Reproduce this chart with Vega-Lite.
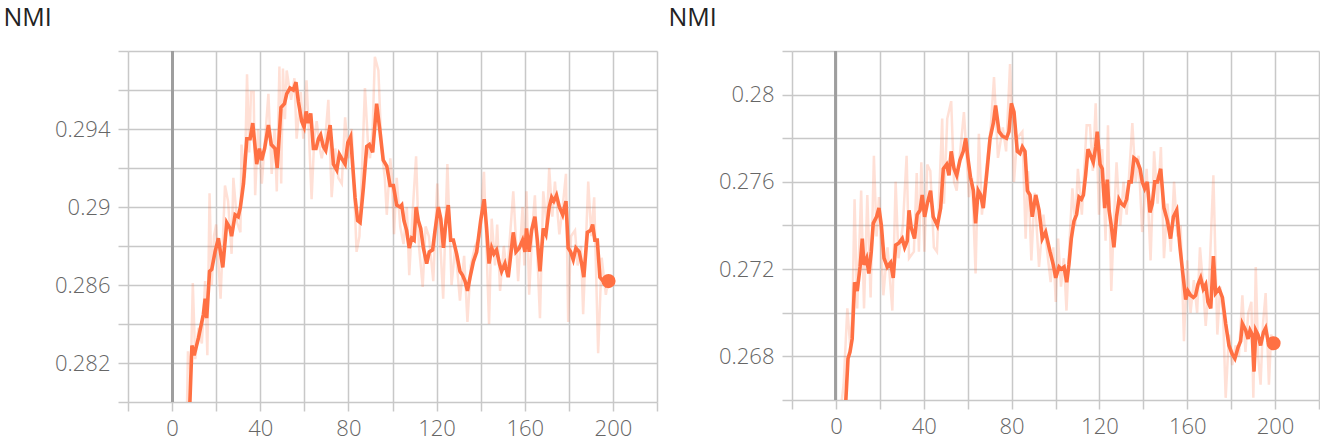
{
  "$schema": "https://vega.github.io/schema/vega-lite/v6.json",
  "padding": {"left": 3, "top": 5, "right": 0, "bottom": 8},
  "spacing": 10,
  "background": "white",
  "config": {
    "view": {"stroke": null},
    "font": "Open Sans",
    "axis": {
      "grid": true,
      "gridColor": "#c8c8c8",
      "gridWidth": 1.5,
      "tickColor": "#c8c8c8",
      "tickWidth": 1.5,
      "domain": false,
      "labelFont": "Open Sans",
      "labelFontSize": 22,
      "labelColor": "#666666",
      "labelFontWeight": 300
    }
  },
  "datasets": {
    "left": [
      {"k":"s","step":7.6,"value":0.2785},{"k":"s","step":9,"value":0.2829},{"k":"s","step":10,"value":0.2824},{"k":"s","step":12,"value":0.2833},{"k":"s","step":14.2,"value":0.2845},{"k":"s","step":15,"value":0.2853},{"k":"s","step":15.7,"value":0.2843},{"k":"s","step":17,"value":0.2867},{"k":"s","step":18,"value":0.2868},{"k":"s","step":19.5,"value":0.2877},{"k":"s","step":21,"value":0.2884},{"k":"s","step":23,"value":0.2869},{"k":"s","step":24.8,"value":0.2892},{"k":"s","step":26.3,"value":0.2889},{"k":"s","step":27,"value":0.2885},{"k":"s","step":28.6,"value":0.2896},{"k":"s","step":30,"value":0.2895},{"k":"s","step":31,"value":0.29},{"k":"s","step":32.4,"value":0.2912},{"k":"s","step":33.9,"value":0.2935},{"k":"s","step":35.4,"value":0.2935},{"k":"s","step":36.6,"value":0.2943},{"k":"s","step":38.4,"value":0.2922},{"k":"s","step":39.6,"value":0.293},{"k":"s","step":40.6,"value":0.2924},{"k":"s","step":42,"value":0.293},{"k":"s","step":43.7,"value":0.2942},{"k":"s","step":45,"value":0.2932},{"k":"s","step":46.7,"value":0.293},{"k":"s","step":47.7,"value":0.292},{"k":"s","step":49.4,"value":0.2951},{"k":"s","step":51,"value":0.2953},{"k":"s","step":52,"value":0.2958},{"k":"s","step":53.5,"value":0.2961},{"k":"s","step":55,"value":0.296},{"k":"s","step":56.2,"value":0.2964},{"k":"s","step":57.3,"value":0.2954},{"k":"s","step":58.8,"value":0.2944},{"k":"s","step":59.9,"value":0.2941},{"k":"s","step":60.8,"value":0.2949},{"k":"s","step":61.8,"value":0.2943},{"k":"s","step":62.9,"value":0.2948},{"k":"s","step":64.1,"value":0.293},{"k":"s","step":65.3,"value":0.293},{"k":"s","step":66.4,"value":0.2935},{"k":"s","step":67.4,"value":0.2937},{"k":"s","step":68.6,"value":0.2931},{"k":"s","step":69.7,"value":0.2929},{"k":"s","step":71.7,"value":0.2942},{"k":"s","step":73.2,"value":0.2922},{"k":"s","step":74.7,"value":0.2919},{"k":"s","step":75.9,"value":0.2927},{"k":"s","step":77.4,"value":0.2924},{"k":"s","step":78.5,"value":0.2922},{"k":"s","step":79.7,"value":0.2933},{"k":"s","step":81,"value":0.2936},{"k":"s","step":83,"value":0.2905},{"k":"s","step":84.2,"value":0.2893},{"k":"s","step":85.3,"value":0.2892},{"k":"s","step":86.8,"value":0.291},{"k":"s","step":88.3,"value":0.2931},{"k":"s","step":89.5,"value":0.2932},{"k":"s","step":91,"value":0.2928},{"k":"s","step":92.8,"value":0.2953},{"k":"s","step":94.3,"value":0.2939},{"k":"s","step":95.8,"value":0.2924},{"k":"s","step":97.4,"value":0.2921},{"k":"s","step":98.9,"value":0.2911},{"k":"s","step":100.4,"value":0.2911},{"k":"s","step":101.9,"value":0.2901},{"k":"s","step":103.4,"value":0.29},{"k":"s","step":104.2,"value":0.2901},{"k":"s","step":105.2,"value":0.2893},{"k":"s","step":106.4,"value":0.2888},{"k":"s","step":107.6,"value":0.2879},{"k":"s","step":108.7,"value":0.2884},{"k":"s","step":109.8,"value":0.2883},{"k":"s","step":110.7,"value":0.29},{"k":"s","step":111.7,"value":0.2893},{"k":"s","step":112.8,"value":0.2889},{"k":"s","step":114,"value":0.2879},{"k":"s","step":115.5,"value":0.2871},{"k":"s","step":116.7,"value":0.2877},{"k":"s","step":118.2,"value":0.2878},{"k":"s","step":119.3,"value":0.2888},{"k":"s","step":120.8,"value":0.29},{"k":"s","step":121.9,"value":0.2894},{"k":"s","step":123.1,"value":0.2879},{"k":"s","step":124.3,"value":0.2893},{"k":"s","step":125.3,"value":0.2901},{"k":"s","step":126.4,"value":0.2883},{"k":"s","step":127.6,"value":0.2883},{"k":"s","step":129.1,"value":0.2876},{"k":"s","step":130.6,"value":0.2867},{"k":"s","step":131.8,"value":0.2865},{"k":"s","step":132.9,"value":0.2862},{"k":"s","step":134,"value":0.2857},{"k":"s","step":135.2,"value":0.2864},{"k":"s","step":136.7,"value":0.2872},{"k":"s","step":138.2,"value":0.2877},{"k":"s","step":140,"value":0.2893},{"k":"s","step":141.6,"value":0.2904},{"k":"s","step":142.7,"value":0.2889},{"k":"s","step":143.8,"value":0.2871},{"k":"s","step":145,"value":0.2879},{"k":"s","step":146,"value":0.2876},{"k":"s","step":147.2,"value":0.2878},{"k":"s","step":148.5,"value":0.2871},{"k":"s","step":149.5,"value":0.2867},{"k":"s","step":151,"value":0.2871},{"k":"s","step":152.5,"value":0.2864},{"k":"s","step":154.8,"value":0.2887},{"k":"s","step":156,"value":0.2877},{"k":"s","step":157.5,"value":0.2879},{"k":"s","step":159,"value":0.2883},{"k":"s","step":160.1,"value":0.2877},{"k":"s","step":160.8,"value":0.2889},{"k":"s","step":162,"value":0.2877},{"k":"s","step":163.1,"value":0.2888},{"k":"s","step":164.6,"value":0.2895},{"k":"s","step":165.7,"value":0.2883},{"k":"s","step":166.9,"value":0.2867},{"k":"s","step":168.4,"value":0.2889},{"k":"s","step":169.6,"value":0.2886},{"k":"s","step":171.1,"value":0.29},{"k":"s","step":172.2,"value":0.2905},{"k":"s","step":173.2,"value":0.2903},{"k":"s","step":174.4,"value":0.2906},{"k":"s","step":175.7,"value":0.29},{"k":"s","step":177.2,"value":0.2896},{"k":"s","step":178.7,"value":0.2903},{"k":"s","step":179.7,"value":0.2879},{"k":"s","step":180.8,"value":0.2877},{"k":"s","step":182,"value":0.2873},{"k":"s","step":183.2,"value":0.2879},{"k":"s","step":184.7,"value":0.2877},{"k":"s","step":185.8,"value":0.2871},{"k":"s","step":186.8,"value":0.2864},{"k":"s","step":188.4,"value":0.2887},{"k":"s","step":189.9,"value":0.2888},{"k":"s","step":190.8,"value":0.2891},{"k":"s","step":191.8,"value":0.2883},{"k":"s","step":192.9,"value":0.2883},{"k":"s","step":194.1,"value":0.2864},{"k":"s","step":195.6,"value":0.2862},{"k":"s","step":196.8,"value":0.286},{"k":"s","step":198,"value":0.2862},
      {"k":"r","step":6.5,"value":0.278},{"k":"r","step":7.2,"value":0.2826},{"k":"r","step":8.5,"value":0.2815},{"k":"r","step":9.4,"value":0.2861},{"k":"r","step":10.5,"value":0.2822},{"k":"r","step":12,"value":0.2838},{"k":"r","step":13.5,"value":0.283},{"k":"r","step":15,"value":0.2862},{"k":"r","step":16,"value":0.2824},{"k":"r","step":17,"value":0.2907},{"k":"r","step":18,"value":0.286},{"k":"r","step":19,"value":0.2885},{"k":"r","step":20,"value":0.2891},{"k":"r","step":22,"value":0.2853},{"k":"r","step":24,"value":0.2911},{"k":"r","step":25.4,"value":0.2903},{"k":"r","step":27,"value":0.2876},{"k":"r","step":27.8,"value":0.2915},{"k":"r","step":29.5,"value":0.2892},{"k":"r","step":31,"value":0.2887},{"k":"r","step":31.5,"value":0.2932},{"k":"r","step":33,"value":0.2915},{"k":"r","step":34,"value":0.2968},{"k":"r","step":35,"value":0.2928},{"k":"r","step":35.8,"value":0.2959},{"k":"r","step":37,"value":0.2959},{"k":"r","step":37.7,"value":0.2906},{"k":"r","step":39,"value":0.294},{"k":"r","step":40.7,"value":0.2912},{"k":"r","step":42.2,"value":0.2935},{"k":"r","step":43.7,"value":0.2958},{"k":"r","step":45.2,"value":0.2917},{"k":"r","step":46.5,"value":0.294},{"k":"r","step":47.5,"value":0.2908},{"k":"r","step":48.7,"value":0.2972},{"k":"r","step":49.5,"value":0.2912},{"k":"r","step":50.3,"value":0.2971},{"k":"r","step":51.2,"value":0.2945},{"k":"r","step":52,"value":0.297},{"k":"r","step":54,"value":0.2955},{"k":"r","step":55.5,"value":0.2966},{"k":"r","step":56.5,"value":0.2935},{"k":"r","step":58.4,"value":0.2959},{"k":"r","step":59.5,"value":0.2935},{"k":"r","step":61,"value":0.2965},{"k":"r","step":62,"value":0.294},{"k":"r","step":63.3,"value":0.2904},{"k":"r","step":64.5,"value":0.2935},{"k":"r","step":65.6,"value":0.2944},{"k":"r","step":67,"value":0.293},{"k":"r","step":67.9,"value":0.2925},{"k":"r","step":69.5,"value":0.2935},{"k":"r","step":70.9,"value":0.2955},{"k":"r","step":72.4,"value":0.2905},{"k":"r","step":74,"value":0.293},{"k":"r","step":75.4,"value":0.2915},{"k":"r","step":77,"value":0.2912},{"k":"r","step":78.5,"value":0.2946},{"k":"r","step":80,"value":0.2925},{"k":"r","step":81.5,"value":0.294},{"k":"r","step":83.7,"value":0.2877},{"k":"r","step":85,"value":0.2885},{"k":"r","step":86.5,"value":0.293},{"k":"r","step":87.5,"value":0.2961},{"k":"r","step":89,"value":0.293},{"k":"r","step":89.8,"value":0.2925},{"k":"r","step":91,"value":0.294},{"k":"r","step":92,"value":0.2977},{"k":"r","step":93.6,"value":0.297},{"k":"r","step":95,"value":0.293},{"k":"r","step":96.5,"value":0.2915},{"k":"r","step":97.4,"value":0.2896},{"k":"r","step":99,"value":0.2925},{"k":"r","step":99.6,"value":0.2917},{"k":"r","step":100.7,"value":0.2886},{"k":"r","step":101.9,"value":0.2915},{"k":"r","step":103.5,"value":0.289},{"k":"r","step":105,"value":0.2881},{"k":"r","step":106.5,"value":0.29},{"k":"r","step":107.6,"value":0.2865},{"k":"r","step":109,"value":0.2895},{"k":"r","step":110.7,"value":0.2926},{"k":"r","step":112,"value":0.288},{"k":"r","step":113.7,"value":0.2859},{"k":"r","step":115,"value":0.289},{"k":"r","step":116.5,"value":0.2885},{"k":"r","step":118.5,"value":0.2862},{"k":"r","step":120.3,"value":0.2912},{"k":"r","step":121.5,"value":0.2885},{"k":"r","step":123,"value":0.2853},{"k":"r","step":124.9,"value":0.2922},{"k":"r","step":126.8,"value":0.286},{"k":"r","step":128.5,"value":0.288},{"k":"r","step":130.6,"value":0.2852},{"k":"r","step":132.5,"value":0.2875},{"k":"r","step":134,"value":0.2841},{"k":"r","step":135.5,"value":0.287},{"k":"r","step":137.5,"value":0.288},{"k":"r","step":139.5,"value":0.2885},{"k":"r","step":141.5,"value":0.2918},{"k":"r","step":143.8,"value":0.284},{"k":"r","step":145,"value":0.2894},{"k":"r","step":146.5,"value":0.287},{"k":"r","step":147.5,"value":0.2891},{"k":"r","step":148.8,"value":0.2857},{"k":"r","step":150.5,"value":0.288},{"k":"r","step":152,"value":0.2865},{"k":"r","step":154.8,"value":0.2908},{"k":"r","step":157,"value":0.2862},{"k":"r","step":159,"value":0.29},{"k":"r","step":159.8,"value":0.287},{"k":"r","step":160.8,"value":0.2908},{"k":"r","step":162,"value":0.2855},{"k":"r","step":163.5,"value":0.289},{"k":"r","step":164.6,"value":0.2906},{"k":"r","step":166.9,"value":0.2843},{"k":"r","step":168.4,"value":0.2908},{"k":"r","step":170,"value":0.289},{"k":"r","step":171.1,"value":0.292},{"k":"r","step":172.5,"value":0.2895},{"k":"r","step":173.7,"value":0.2913},{"k":"r","step":175.7,"value":0.2886},{"k":"r","step":177.2,"value":0.29},{"k":"r","step":178.7,"value":0.2917},{"k":"r","step":179.7,"value":0.2841},{"k":"r","step":181,"value":0.2885},{"k":"r","step":182.8,"value":0.2888},{"k":"r","step":184,"value":0.287},{"k":"r","step":185.5,"value":0.288},{"k":"r","step":186.5,"value":0.2845},{"k":"r","step":188.8,"value":0.2913},{"k":"r","step":190.2,"value":0.2885},{"k":"r","step":191.5,"value":0.2905},{"k":"r","step":193.3,"value":0.2825},{"k":"r","step":194.9,"value":0.2874},{"k":"r","step":196.8,"value":0.2855},{"k":"r","step":198,"value":0.2864}
    ],
    "right": [
      {"k":"s","step":4,"value":0.265},{"k":"s","step":5.5,"value":0.2679},{"k":"s","step":6.4,"value":0.2682},{"k":"s","step":7.4,"value":0.2688},{"k":"s","step":8.5,"value":0.2714},{"k":"s","step":9.7,"value":0.271},{"k":"s","step":11,"value":0.2721},{"k":"s","step":12,"value":0.2734},{"k":"s","step":12.8,"value":0.2722},{"k":"s","step":14,"value":0.2725},{"k":"s","step":15,"value":0.2718},{"k":"s","step":16.1,"value":0.2728},{"k":"s","step":17,"value":0.2741},{"k":"s","step":18.5,"value":0.2744},{"k":"s","step":19.6,"value":0.2748},{"k":"s","step":20.7,"value":0.274},{"k":"s","step":21.9,"value":0.2725},{"k":"s","step":23.4,"value":0.2721},{"k":"s","step":24.9,"value":0.2723},{"k":"s","step":26.1,"value":0.2716},{"k":"s","step":27.2,"value":0.2731},{"k":"s","step":28.7,"value":0.2732},{"k":"s","step":30.2,"value":0.2734},{"k":"s","step":31.3,"value":0.273},{"k":"s","step":32.5,"value":0.2733},{"k":"s","step":33.3,"value":0.2747},{"k":"s","step":34.3,"value":0.2739},{"k":"s","step":35.8,"value":0.2734},{"k":"s","step":37,"value":0.2745},{"k":"s","step":38.3,"value":0.2747},{"k":"s","step":39.3,"value":0.2754},{"k":"s","step":40.4,"value":0.2744},{"k":"s","step":41.6,"value":0.275},{"k":"s","step":43.1,"value":0.2756},{"k":"s","step":44.3,"value":0.2744},{"k":"s","step":46.2,"value":0.274},{"k":"s","step":47.7,"value":0.2748},{"k":"s","step":48.9,"value":0.2766},{"k":"s","step":50.4,"value":0.2768},{"k":"s","step":51.5,"value":0.2763},{"k":"s","step":52.5,"value":0.2774},{"k":"s","step":53.8,"value":0.2766},{"k":"s","step":55,"value":0.2763},{"k":"s","step":56.5,"value":0.277},{"k":"s","step":58,"value":0.2774},{"k":"s","step":59.1,"value":0.278},{"k":"s","step":60.1,"value":0.2771},{"k":"s","step":61.3,"value":0.2762},{"k":"s","step":62.6,"value":0.2756},{"k":"s","step":63.6,"value":0.2741},{"k":"s","step":64.8,"value":0.2756},{"k":"s","step":65.9,"value":0.2754},{"k":"s","step":67.1,"value":0.2748},{"k":"s","step":68.6,"value":0.2763},{"k":"s","step":70.2,"value":0.278},{"k":"s","step":71.7,"value":0.2787},{"k":"s","step":72.7,"value":0.2795},{"k":"s","step":74.3,"value":0.2783},{"k":"s","step":75.8,"value":0.2781},{"k":"s","step":77.7,"value":0.278},{"k":"s","step":78.8,"value":0.2783},{"k":"s","step":79.9,"value":0.2796},{"k":"s","step":81.1,"value":0.2792},{"k":"s","step":82.6,"value":0.2774},{"k":"s","step":83.8,"value":0.2773},{"k":"s","step":84.9,"value":0.2776},{"k":"s","step":86.1,"value":0.2774},{"k":"s","step":87.2,"value":0.2756},{"k":"s","step":88.4,"value":0.2754},{"k":"s","step":89.4,"value":0.2744},{"k":"s","step":91,"value":0.2754},{"k":"s","step":92.5,"value":0.2747},{"k":"s","step":94,"value":0.2734},{"k":"s","step":95.5,"value":0.2737},{"k":"s","step":97.5,"value":0.2728},{"k":"s","step":99,"value":0.2722},{"k":"s","step":100.1,"value":0.2716},{"k":"s","step":101.6,"value":0.2721},{"k":"s","step":102.6,"value":0.272},{"k":"s","step":103.9,"value":0.2721},{"k":"s","step":105.1,"value":0.2714},{"k":"s","step":106.1,"value":0.2722},{"k":"s","step":107.2,"value":0.2734},{"k":"s","step":108.4,"value":0.2742},{"k":"s","step":109.6,"value":0.2745},{"k":"s","step":110.7,"value":0.2753},{"k":"s","step":111.8,"value":0.2752},{"k":"s","step":112.7,"value":0.2754},{"k":"s","step":113.7,"value":0.2763},{"k":"s","step":114.8,"value":0.2775},{"k":"s","step":116,"value":0.2772},{"k":"s","step":117.2,"value":0.2769},{"k":"s","step":118.3,"value":0.2776},{"k":"s","step":119,"value":0.2783},{"k":"s","step":120.3,"value":0.2768},{"k":"s","step":121.3,"value":0.2766},{"k":"s","step":122.4,"value":0.2748},{"k":"s","step":123.6,"value":0.2761},{"k":"s","step":124.4,"value":0.2747},{"k":"s","step":125.4,"value":0.274},{"k":"s","step":126.6,"value":0.273},{"k":"s","step":127.8,"value":0.2744},{"k":"s","step":128.9,"value":0.2752},{"k":"s","step":130,"value":0.275},{"k":"s","step":131.2,"value":0.2749},{"k":"s","step":132.4,"value":0.2752},{"k":"s","step":133.5,"value":0.276},{"k":"s","step":134.5,"value":0.276},{"k":"s","step":135.7,"value":0.2771},{"k":"s","step":137,"value":0.277},{"k":"s","step":138.5,"value":0.2766},{"k":"s","step":139.5,"value":0.276},{"k":"s","step":140.6,"value":0.2757},{"k":"s","step":141.8,"value":0.276},{"k":"s","step":143,"value":0.2746},{"k":"s","step":144.1,"value":0.275},{"k":"s","step":145.2,"value":0.276},{"k":"s","step":146.4,"value":0.276},{"k":"s","step":147.9,"value":0.2766},{"k":"s","step":149.4,"value":0.2748},{"k":"s","step":151,"value":0.2742},{"k":"s","step":152.4,"value":0.2734},{"k":"s","step":153.7,"value":0.2744},{"k":"s","step":155.2,"value":0.2747},{"k":"s","step":156.7,"value":0.273},{"k":"s","step":158.2,"value":0.2716},{"k":"s","step":159.3,"value":0.2706},{"k":"s","step":160.3,"value":0.271},{"k":"s","step":161.5,"value":0.2708},{"k":"s","step":162.8,"value":0.2707},{"k":"s","step":163.8,"value":0.2708},{"k":"s","step":164.9,"value":0.2713},{"k":"s","step":166.1,"value":0.2716},{"k":"s","step":167.3,"value":0.2711},{"k":"s","step":168.4,"value":0.2713},{"k":"s","step":169.4,"value":0.2705},{"k":"s","step":170.7,"value":0.2702},{"k":"s","step":171.9,"value":0.2726},{"k":"s","step":172.9,"value":0.2709},{"k":"s","step":174.5,"value":0.2711},{"k":"s","step":176,"value":0.2707},{"k":"s","step":177.5,"value":0.2695},{"k":"s","step":179,"value":0.2685},{"k":"s","step":180.5,"value":0.2681},{"k":"s","step":181.7,"value":0.2679},{"k":"s","step":183.1,"value":0.2684},{"k":"s","step":184.3,"value":0.2687},{"k":"s","step":185.1,"value":0.2695},{"k":"s","step":186.6,"value":0.2692},{"k":"s","step":187.7,"value":0.2688},{"k":"s","step":188.6,"value":0.2692},{"k":"s","step":189.6,"value":0.269},{"k":"s","step":190.4,"value":0.2673},{"k":"s","step":191.2,"value":0.2692},{"k":"s","step":192.2,"value":0.269},{"k":"s","step":193.4,"value":0.2685},{"k":"s","step":194.7,"value":0.2691},{"k":"s","step":195.7,"value":0.2693},{"k":"s","step":196.8,"value":0.2687},{"k":"s","step":198,"value":0.2685},{"k":"s","step":199.3,"value":0.2686},
      {"k":"r","step":2.1,"value":0.2655},{"k":"r","step":3.5,"value":0.2667},{"k":"r","step":5.2,"value":0.2702},{"k":"r","step":6.5,"value":0.2685},{"k":"r","step":7.5,"value":0.27},{"k":"r","step":8.5,"value":0.2752},{"k":"r","step":9.7,"value":0.2702},{"k":"r","step":11.5,"value":0.2756},{"k":"r","step":12.8,"value":0.2702},{"k":"r","step":14.3,"value":0.2754},{"k":"r","step":15.8,"value":0.2707},{"k":"r","step":17.3,"value":0.2772},{"k":"r","step":18.5,"value":0.2735},{"k":"r","step":19.6,"value":0.2753},{"k":"r","step":21.6,"value":0.2708},{"k":"r","step":23.5,"value":0.273},{"k":"r","step":25.7,"value":0.2701},{"k":"r","step":27.2,"value":0.276},{"k":"r","step":28.5,"value":0.2725},{"k":"r","step":30.5,"value":0.274},{"k":"r","step":32.2,"value":0.2772},{"k":"r","step":33.3,"value":0.2725},{"k":"r","step":35.5,"value":0.2728},{"k":"r","step":36.8,"value":0.2764},{"k":"r","step":37.8,"value":0.2728},{"k":"r","step":38.9,"value":0.2769},{"k":"r","step":40.3,"value":0.2728},{"k":"r","step":41.6,"value":0.2768},{"k":"r","step":43,"value":0.2765},{"k":"r","step":44.6,"value":0.273},{"k":"r","step":46,"value":0.2728},{"k":"r","step":48.4,"value":0.2789},{"k":"r","step":49.2,"value":0.275},{"k":"r","step":50.7,"value":0.2789},{"k":"r","step":52.5,"value":0.2797},{"k":"r","step":53.8,"value":0.276},{"k":"r","step":55,"value":0.2756},{"k":"r","step":56.7,"value":0.2775},{"k":"r","step":58.3,"value":0.2792},{"k":"r","step":60.6,"value":0.2753},{"k":"r","step":62,"value":0.2762},{"k":"r","step":63.6,"value":0.2718},{"k":"r","step":65.1,"value":0.2782},{"k":"r","step":66.5,"value":0.2745},{"k":"r","step":69,"value":0.2771},{"k":"r","step":70.5,"value":0.2785},{"k":"r","step":72,"value":0.2808},{"k":"r","step":73.8,"value":0.2771},{"k":"r","step":76,"value":0.2785},{"k":"r","step":77.5,"value":0.2774},{"k":"r","step":79.3,"value":0.2814},{"k":"r","step":81.1,"value":0.276},{"k":"r","step":82.5,"value":0.278},{"k":"r","step":84.9,"value":0.2783},{"k":"r","step":86.4,"value":0.2734},{"k":"r","step":87.5,"value":0.2765},{"k":"r","step":89,"value":0.2724},{"k":"r","step":90.5,"value":0.2755},{"k":"r","step":92.5,"value":0.2721},{"k":"r","step":94.5,"value":0.2745},{"k":"r","step":96,"value":0.273},{"k":"r","step":97.8,"value":0.2714},{"k":"r","step":99,"value":0.273},{"k":"r","step":100.1,"value":0.2705},{"k":"r","step":101.2,"value":0.2734},{"k":"r","step":102.5,"value":0.2712},{"k":"r","step":103.8,"value":0.2725},{"k":"r","step":105,"value":0.2701},{"k":"r","step":106.5,"value":0.2735},{"k":"r","step":107.7,"value":0.2757},{"k":"r","step":109,"value":0.274},{"k":"r","step":110.2,"value":0.2766},{"k":"r","step":112,"value":0.2745},{"k":"r","step":114.2,"value":0.2786},{"k":"r","step":115.7,"value":0.2786},{"k":"r","step":117,"value":0.2765},{"k":"r","step":118.3,"value":0.2796},{"k":"r","step":119.8,"value":0.2745},{"k":"r","step":121.3,"value":0.2775},{"k":"r","step":122.8,"value":0.2733},{"k":"r","step":123.9,"value":0.2786},{"k":"r","step":125.4,"value":0.271},{"k":"r","step":126.5,"value":0.274},{"k":"r","step":127.8,"value":0.2769},{"k":"r","step":129.5,"value":0.274},{"k":"r","step":131,"value":0.276},{"k":"r","step":132.4,"value":0.2745},{"k":"r","step":135,"value":0.2787},{"k":"r","step":136.5,"value":0.276},{"k":"r","step":137.8,"value":0.2772},{"k":"r","step":139.5,"value":0.2737},{"k":"r","step":141.5,"value":0.2766},{"k":"r","step":143.3,"value":0.2724},{"k":"r","step":144.9,"value":0.2774},{"k":"r","step":146.5,"value":0.275},{"k":"r","step":148,"value":0.2776},{"k":"r","step":149.4,"value":0.2725},{"k":"r","step":151,"value":0.275},{"k":"r","step":152.5,"value":0.2728},{"k":"r","step":154,"value":0.276},{"k":"r","step":155.5,"value":0.2735},{"k":"r","step":157,"value":0.274},{"k":"r","step":158.5,"value":0.2687},{"k":"r","step":160,"value":0.2724},{"k":"r","step":161.5,"value":0.27},{"k":"r","step":163,"value":0.2715},{"k":"r","step":164.5,"value":0.27},{"k":"r","step":165.8,"value":0.273},{"k":"r","step":167,"value":0.2715},{"k":"r","step":168.4,"value":0.2694},{"k":"r","step":170,"value":0.2715},{"k":"r","step":171.9,"value":0.2763},{"k":"r","step":173.7,"value":0.269},{"k":"r","step":175,"value":0.2712},{"k":"r","step":176.3,"value":0.27},{"k":"r","step":177.5,"value":0.2661},{"k":"r","step":179,"value":0.269},{"k":"r","step":180.5,"value":0.2676},{"k":"r","step":182,"value":0.2685},{"k":"r","step":183.5,"value":0.268},{"k":"r","step":185.1,"value":0.2708},{"k":"r","step":186.5,"value":0.2682},{"k":"r","step":187.8,"value":0.27},{"k":"r","step":189.2,"value":0.2705},{"k":"r","step":190.1,"value":0.2661},{"k":"r","step":191.2,"value":0.2721},{"k":"r","step":192.3,"value":0.268},{"k":"r","step":193.4,"value":0.2667},{"k":"r","step":194.5,"value":0.2695},{"k":"r","step":195.7,"value":0.2709},{"k":"r","step":197.2,"value":0.2667},{"k":"r","step":198.2,"value":0.269},{"k":"r","step":199.3,"value":0.2687}
    ]
  },
  "hconcat": [
    {
      "width": 529,
      "height": 351,
      "data": {"name": "left"},
      "encoding": {
        "x": {
          "field": "step", "type": "quantitative", "title": null,
          "scale": {"domain": [-20, 220], "nice": false, "zero": false},
          "axis": {"values": [-20, 0, 20, 40, 60, 80, 100, 120, 140, 160, 180, 200, 220], "tickSize": 9, "labelPadding": 24, "labelBaseline": "alphabetic",
            "labelExpr": "(datum.value % 40 == 0 && datum.value >= 0 && datum.value <= 200) ? datum.label : ''"}
        },
        "y": {
          "field": "value", "type": "quantitative", "title": "NMI",
          "scale": {"domain": [0.28, 0.298], "nice": false, "zero": false},
          "axis": {"values": [0.28, 0.282, 0.284, 0.286, 0.288, 0.29, 0.292, 0.294, 0.296, 0.298], "tickSize": 10, "labelPadding": 8,
            "labelExpr": "(round(datum.value * 1000) % 4 == 2 && datum.value < 0.297) ? format(datum.value, '.3~f') : ''",
            "titleAngle": 0, "titleAlign": "left", "titleBaseline": "alphabetic", "titleX": -125, "titleY": -26,
            "titleFontSize": 25, "titleFontWeight": "normal", "titleColor": "#222222", "titleFont": "Open Sans"}
        }
      },
      "layer": [
        {"mark": {"type": "rule", "color": "#9e9e9e", "strokeWidth": 2}, "encoding": {"x": {"datum": 0, "type": "quantitative"}, "y": null}},
        {"transform": [{"filter": "datum.k == 'r'"}], "mark": {"type": "line", "clip": true, "color": "#ff7043", "opacity": 0.22, "strokeWidth": 2.5}},
        {"transform": [{"filter": "datum.k == 's'"}], "mark": {"type": "line", "clip": true, "color": "#ff7043", "strokeWidth": 3.6}},
        {"transform": [{"filter": "datum.k == 's' && datum.step == 198"}], "mark": {"type": "circle", "color": "#ff7043", "opacity": 1, "size": 200}}
      ]
    },
    {
      "width": 527,
      "height": 349,
      "data": {"name": "right"},
      "encoding": {
        "x": {
          "field": "step", "type": "quantitative", "title": null,
          "scale": {"domain": [-20, 220], "nice": false, "zero": false},
          "axis": {"values": [-20, 0, 20, 40, 60, 80, 100, 120, 140, 160, 180, 200, 220], "tickSize": 9, "labelPadding": 24, "labelBaseline": "alphabetic",
            "labelExpr": "(datum.value % 40 == 0 && datum.value >= 0 && datum.value <= 200) ? datum.label : ''"}
        },
        "y": {
          "field": "value", "type": "quantitative", "title": "NMI",
          "scale": {"domain": [0.266, 0.282], "nice": false, "zero": false},
          "axis": {"values": [0.266, 0.268, 0.27, 0.272, 0.274, 0.276, 0.278, 0.28, 0.282], "tickSize": 10, "labelPadding": 8,
            "labelExpr": "(round(datum.value * 1000) % 4 == 0) ? format(datum.value, '.3~f') : ''",
            "titleAngle": 0, "titleAlign": "left", "titleBaseline": "alphabetic", "titleX": -124, "titleY": -26,
            "titleFontSize": 25, "titleFontWeight": "normal", "titleColor": "#222222", "titleFont": "Open Sans"}
        }
      },
      "layer": [
        {"mark": {"type": "rule", "color": "#9e9e9e", "strokeWidth": 2}, "encoding": {"x": {"datum": 0, "type": "quantitative"}, "y": null}},
        {"transform": [{"filter": "datum.k == 'r'"}], "mark": {"type": "line", "clip": true, "color": "#ff7043", "opacity": 0.22, "strokeWidth": 2.5}},
        {"transform": [{"filter": "datum.k == 's'"}], "mark": {"type": "line", "clip": true, "color": "#ff7043", "strokeWidth": 3.6}},
        {"transform": [{"filter": "datum.k == 's' && datum.step == 199.3"}], "mark": {"type": "circle", "color": "#ff7043", "opacity": 1, "size": 200}}
      ]
    }
  ]
}
